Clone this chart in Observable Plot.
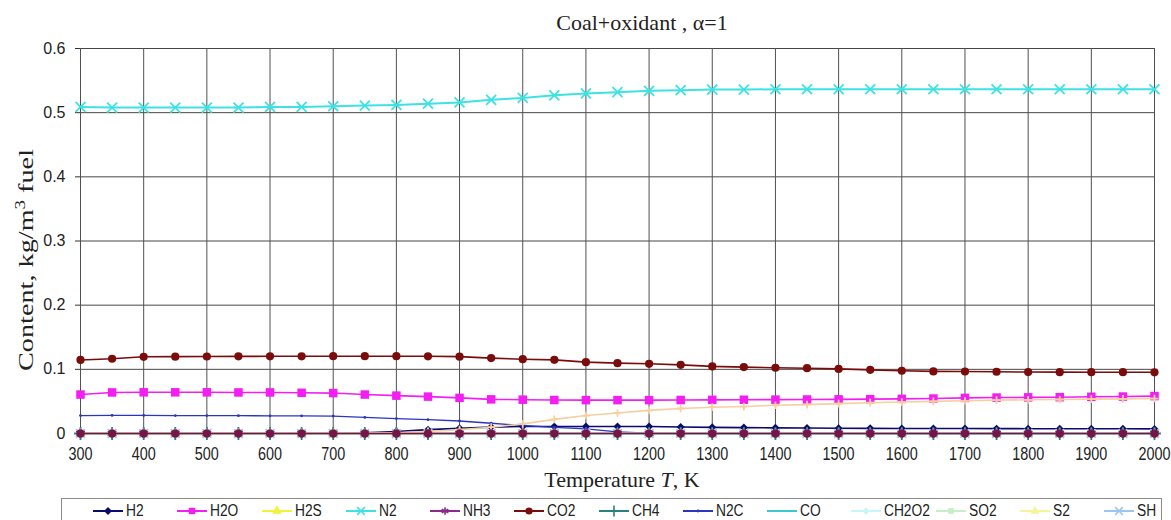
<!DOCTYPE html>
<html>
<head>
<meta charset="utf-8">
<script src="https://cdn.jsdelivr.net/npm/d3@7"></script>
<script src="https://cdn.jsdelivr.net/npm/@observablehq/plot@0.6"></script>
<style>
  body { margin: 0; background: #fff; width: 1171px; overflow: hidden; }
  #title {
    height: 38px; box-sizing: border-box; padding-top: 12px; padding-left: 113px;
    text-align: center; font: 22px/1 "Liberation Serif", "Times New Roman", serif; color: #222;
  }
  #legend {
    position: relative; margin-left: 61px; width: 1101px; height: 40px;
    border: 1px solid #8a8a8a; box-sizing: border-box;
  }
  .item {
    position: absolute; top: 3px; display: flex; align-items: center; white-space: nowrap;
    font: 16px "Liberation Sans", Arial, sans-serif; color: #222;
  }
  .item svg { margin-right: 3px; }
  .item span { display: inline-block; transform: scaleX(0.86); transform-origin: left center; }
</style>
</head>
<body>
<div id="title">Coal+oxidant , α=1</div>
<div id="chart"></div>
<div id="legend"></div>
<script>
// Temperature grid, K
const temperature = [300, 350, 400, 450, 500, 550, 600, 650, 700, 750, 800, 850, 900, 950, 1000, 1050, 1100, 1150, 1200, 1250, 1300, 1350, 1400, 1450, 1500, 1550, 1600, 1650, 1700, 1750, 1800, 1850, 1900, 1950, 2000];

const xTicks = [300, 400, 500, 600, 700, 800, 900, 1000, 1100, 1200, 1300, 1400, 1500, 1600, 1700, 1800, 1900, 2000];
const yTicks = [0, 0.1, 0.2, 0.3, 0.4, 0.5, 0.6];

// Species content, kg/m3 fuel
const H2 = [0, 0, 0, 0, 0, 0, 0, 0, 0, 0.001, 0.003, 0.006, 0.008, 0.010, 0.011, 0.011, 0.011, 0.011, 0.0108, 0.0102, 0.0096, 0.0092, 0.0088, 0.0085, 0.0082, 0.0080, 0.0079, 0.0078, 0.0077, 0.0076, 0.0075, 0.0074, 0.0074, 0.0073, 0.0072];
const H2O = [0.0607, 0.0640, 0.0642, 0.0642, 0.0642, 0.0640, 0.0640, 0.0634, 0.0630, 0.0607, 0.0590, 0.0575, 0.0555, 0.0532, 0.0527, 0.0522, 0.0520, 0.0520, 0.0520, 0.0522, 0.0524, 0.0526, 0.0528, 0.0530, 0.0532, 0.0535, 0.0540, 0.0545, 0.0555, 0.0560, 0.0563, 0.0566, 0.0572, 0.0576, 0.0583];
const N2 = [0.509, 0.508, 0.508, 0.508, 0.508, 0.508, 0.509, 0.509, 0.510, 0.511, 0.512, 0.514, 0.516, 0.520, 0.523, 0.527, 0.530, 0.532, 0.534, 0.535, 0.536, 0.536, 0.5365, 0.5365, 0.5365, 0.5365, 0.5365, 0.5365, 0.5365, 0.5365, 0.5365, 0.5365, 0.5365, 0.5365, 0.5365];
const CO2 = [0.1146, 0.1165, 0.1195, 0.1198, 0.1200, 0.1202, 0.1203, 0.1203, 0.1205, 0.1205, 0.1205, 0.1203, 0.1198, 0.1175, 0.1158, 0.1148, 0.1112, 0.1096, 0.1086, 0.1070, 0.1046, 0.1035, 0.1025, 0.1018, 0.1007, 0.0992, 0.0978, 0.0968, 0.0966, 0.0962, 0.0958, 0.0956, 0.0955, 0.0955, 0.0954];
const N2C = [0.0280, 0.0282, 0.0282, 0.0280, 0.0280, 0.0278, 0.0276, 0.0275, 0.0272, 0.0250, 0.0232, 0.0215, 0.0195, 0.0160, 0.0125, 0.0095, 0.0073, 0.0025, 0.0005, 0, 0, 0, 0, 0, 0, 0, 0, 0, 0, 0, 0, 0, 0, 0, 0];
const zeros = [0, 0, 0, 0, 0, 0, 0, 0, 0, 0, 0, 0, 0, 0, 0, 0, 0, 0, 0, 0, 0, 0, 0, 0, 0, 0, 0, 0, 0, 0, 0, 0, 0, 0, 0];
const risingTan = [0, 0, 0, 0, 0, 0, 0, 0, 0, 0, 0.001, 0.003, 0.006, 0.0098, 0.015, 0.022, 0.028, 0.032, 0.036, 0.039, 0.041, 0.042, 0.044, 0.045, 0.0465, 0.048, 0.049, 0.050, 0.051, 0.052, 0.0525, 0.053, 0.0535, 0.054, 0.0545];

const legendNames = ["H2", "H2O", "H2S", "N2", "NH3", "CO2", "CH4", "N2C", "CO", "CH2O2", "SO2", "S2", "SH"];

// Series in drawing order (later ones on top)
const series = [
  {name: "H2", values: H2},
  {name: "H2O", values: H2O},
  {name: "H2S", values: zeros},
  {name: "N2", values: N2},
  {name: "NH3", values: zeros},
  {name: "CO2", values: CO2},
  {name: "CH4", values: zeros},
  {name: "N2C", values: N2C},
  {name: "CO", values: zeros},
  {name: "CH2O2", values: zeros},
  {name: "SO2", values: zeros},
  {name: "S2", values: zeros},
  {name: "SH", values: zeros},
  {name: "tan", values: risingTan},
  {name: "plum", values: zeros}
];

// Line colour, marker and sizes per series
const look = {
  H2:    {color: "#0a0a70", symbol: "diamond2", r: 3.6, width: 1.6},
  H2O:   {color: "#f21ef2", symbol: "square", r: 4.8, width: 1.6},
  H2S:   {color: "#f2f23a", symbol: "triangle", r: 4, width: 1.6},
  N2:    {color: "#3ee2e2", symbol: "times", r: 4.6, width: 2},
  NH3:   {color: "#8a2a8a", symbol: "asterisk", r: 4.6, width: 1.6},
  CO2:   {color: "#7a0c0c", symbol: "circle", r: 4.1, width: 1.6},
  CH4:   {color: "#2a8080", symbol: "plus", r: 4.2, width: 1.6},
  N2C:   {color: "#2b35c0", symbol: "circle", r: 1.4, width: 1.3},
  CO:    {color: "#3cc8d0", symbol: null, r: 0, width: 1.6},
  CH2O2: {color: "#c8f6f6", symbol: "diamond2", r: 3.4, width: 1.4},
  SO2:   {color: "#c4f0c4", symbol: "square", r: 3.2, width: 1.4},
  S2:    {color: "#f6f49a", symbol: "triangle", r: 3.4, width: 1.4},
  SH:    {color: "#9cc6f0", symbol: "times", r: 4, width: 1.4},
  tan:   {color: "#f6cf9f", symbol: "plus", r: 2.6, width: 1.6},
  plum:  {color: "#761646", symbol: "circle", r: 4.3, width: 1.6}
};
const strokeSymbols = new Set(["times", "asterisk", "plus"]);

const rows = series.flatMap(s => temperature.map((T, i) => ({name: s.name, T, v: s.values[i]})));

const seriesMarks = series.flatMap(s => {
  const st = look[s.name];
  const data = rows.filter(d => d.name === s.name);
  const out = [Plot.line(data, {x: "T", y: "v", stroke: st.color, strokeWidth: st.width})];
  if (st.symbol) {
    out.push(strokeSymbols.has(st.symbol)
      ? Plot.dot(data, {x: "T", y: "v", symbol: st.symbol, r: st.r, stroke: st.color, strokeWidth: 1.8, fill: "none"})
      : Plot.dot(data, {x: "T", y: "v", symbol: st.symbol, r: st.r, fill: st.color, stroke: "none"}));
  }
  return out;
});

const chart = Plot.plot({
  width: 1171,
  height: 460,
  marginTop: 10,
  marginBottom: 65,
  marginLeft: 80,
  marginRight: 17,
  x: {domain: [300, 2000]},
  y: {domain: [0, 0.6]},
  style: {background: "#fff", color: "#222", fontFamily: '"Liberation Sans", Arial, sans-serif', fontSize: "16px", overflow: "visible"},
  marks: [
    Plot.ruleY(yTicks, {stroke: "#474747", strokeWidth: 1}),
    Plot.ruleX(xTicks, {stroke: "#505050", strokeWidth: 1}),
    Plot.axisY(yTicks, {tickSize: 5, tickPadding: 10, label: null, stroke: "#333",
      tickFormat: d => d === 0 ? "0" : d.toFixed(1)}),
    Plot.axisX(xTicks, {tickSize: 0, tickPadding: 14, label: null, tickFormat: d => String(d)}),
    ...seriesMarks
  ]
});
document.getElementById("chart").appendChild(chart);

const svg = d3.select(chart);
// Condensed temperature labels
svg.selectAll('[aria-label="x-axis tick label"] text')
  .style("font-size", "18px")
  .each(function() {
    const t = this.getAttribute("transform") || "";
    this.setAttribute("transform", t + " scale(0.8,1)");
  });

// Axis titles
const xTitle = svg.append("text")
  .attr("x", 622).attr("y", 449)
  .attr("text-anchor", "middle")
  .style("font", '22px "Liberation Serif", "Times New Roman", serif')
  .attr("fill", "#222");
xTitle.append("tspan").text("Temperature ");
xTitle.append("tspan").attr("font-style", "italic").text("T");
xTitle.append("tspan").text(", K");

const yTitle = svg.append("text")
  .attr("transform", "translate(33,222) rotate(-90)")
  .attr("text-anchor", "middle")
  .attr("textLength", 222)
  .attr("lengthAdjust", "spacingAndGlyphs")
  .style("font", '21px "Liberation Serif", "Times New Roman", serif')
  .attr("fill", "#222");
yTitle.append("tspan").text("Content, kg/m");
yTitle.append("tspan").attr("dy", -8).style("font-size", "14px").text("3");
yTitle.append("tspan").attr("dy", 8).text(" fuel");

// Legend row
const symbolTypes = {
  diamond2: d3.symbolDiamond2, square: d3.symbolSquare, triangle: d3.symbolTriangle,
  times: d3.symbolTimes, asterisk: d3.symbolAsterisk, circle: d3.symbolCircle, plus: d3.symbolPlus
};
const legend = d3.select("#legend");
legendNames.forEach((name, i) => {
  const st = look[name];
  const item = legend.append("div").attr("class", "item").style("left", (31 + i * 84.25) + "px");
  const sw = item.append("svg").attr("width", 30).attr("height", 16);
  sw.append("line").attr("x1", 0).attr("x2", 30).attr("y1", 8).attr("y2", 8)
    .attr("stroke", st.color).attr("stroke-width", 2);
  if (st.symbol) {
    const r = Math.min(st.r, 3.6);
    const path = d3.symbol(symbolTypes[st.symbol], r * r * Math.PI)();
    const p = sw.append("path").attr("d", path).attr("transform", "translate(15,8)");
    if (strokeSymbols.has(st.symbol)) p.attr("fill", "none").attr("stroke", st.color).attr("stroke-width", 1.6);
    else p.attr("fill", st.color);
  }
  item.append("span").text(name);
});
</script>
</body>
</html>
